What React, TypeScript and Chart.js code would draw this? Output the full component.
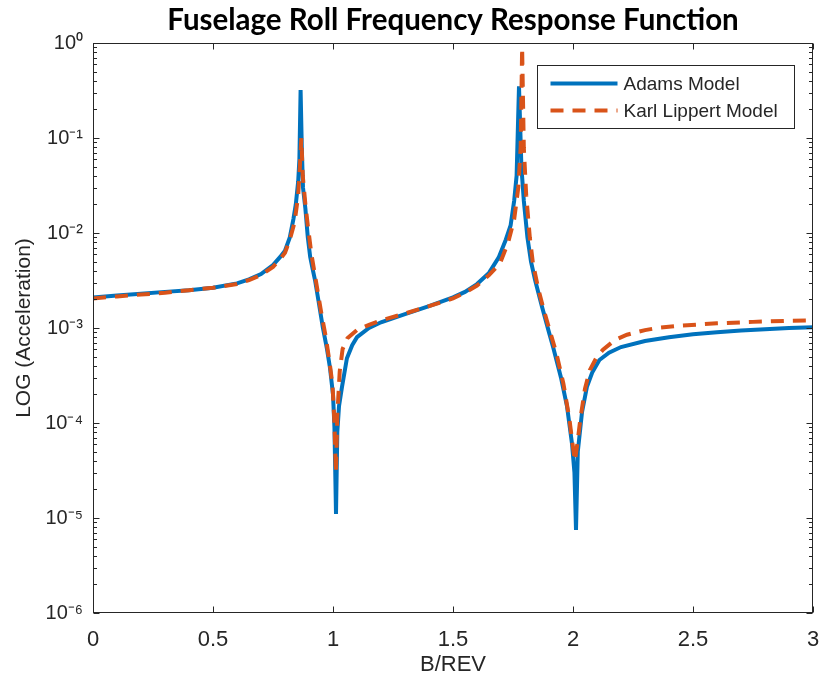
import React, { useEffect, useRef } from 'react';
import { Chart, registerables } from 'chart.js';

Chart.register(...registerables);

const seriesNames = ['Adams Model', 'Karl Lippert Model'];

const adamsX = [
  0, 0.1, 0.2, 0.3, 0.4, 0.5, 0.6, 0.65, 0.7, 0.75, 0.78, 0.8, 0.82, 0.835, 0.845, 0.855, 0.86, 0.865, 0.87,
  0.875, 0.885, 0.895, 0.905, 0.915, 0.925, 0.94, 0.958, 0.975, 0.9875, 1.0, 1.006, 1.0125, 1.018, 1.025,
  1.0375, 1.058, 1.08, 1.1, 1.15, 1.2, 1.3, 1.4, 1.5, 1.55, 1.6, 1.65, 1.69, 1.72, 1.74, 1.755, 1.765, 1.775,
  1.785, 1.795, 1.81, 1.825, 1.842, 1.87, 1.9, 1.917, 1.95, 1.975, 1.996, 2.006, 2.0125, 2.02, 2.0375, 2.058,
  2.08, 2.11, 2.15, 2.2, 2.3, 2.4, 2.5, 2.6, 2.7, 2.8, 2.9, 3.0,
];
const adamsY = [
  2.1e-3, 2.2e-3, 2.3e-3, 2.4e-3, 2.5e-3, 2.65e-3, 2.95e-3, 3.25e-3, 3.7e-3, 4.6e-3, 5.6e-3, 6.5e-3, 9e-3,
  1.4e-2, 2e-2, 3.5e-2, 6e-2, 0.32, 0.08,
  3e-2, 1.8e-2, 9e-3, 5.6e-3, 4.2e-3, 3.2e-3, 1.9e-3, 1.0e-3, 6e-4, 3.8e-4, 2e-4, 9e-5, 1.1e-5, 8e-5, 1.5e-4,
  2.4e-4, 4.8e-4, 6.6e-4, 8e-4, 1e-3, 1.15e-3, 1.4e-3, 1.7e-3, 2.1e-3, 2.4e-3, 2.9e-3, 3.8e-3, 5.5e-3, 8.5e-3,
  1.2e-2, 2.2e-2, 4e-2, 0.35,
  5e-2, 2.2e-2, 9e-3, 5e-3, 3.2e-3, 1.7e-3, 9e-4, 6.3e-4, 3e-4, 1.5e-4, 6e-5, 3e-5, 7.5e-6, 5e-5, 1.3e-4, 2.4e-4,
  3.4e-4, 4.6e-4, 5.5e-4, 6.3e-4, 7.3e-4, 8e-4, 8.6e-4, 9e-4, 9.4e-4, 9.7e-4, 1e-3, 1.02e-3,
];

const lippertX = [
  0, 0.1, 0.2, 0.3, 0.4, 0.5, 0.6, 0.65, 0.7, 0.75, 0.78, 0.8, 0.82, 0.84, 0.855, 0.862, 0.868, 0.874, 0.885,
  0.895, 0.91, 0.93, 0.95, 0.97, 0.985, 0.998, 1.006, 1.012, 1.018, 1.028, 1.04, 1.06, 1.1, 1.15, 1.2, 1.3, 1.4,
  1.5, 1.55, 1.6, 1.65, 1.696, 1.73, 1.755, 1.772, 1.782, 1.788, 1.795, 1.805, 1.82, 1.833, 1.855, 1.875, 1.9,
  1.93, 1.96, 1.985, 1.998, 2.008, 2.018, 2.03, 2.05, 2.07, 2.1, 2.125, 2.175, 2.225, 2.3, 2.35, 2.45, 2.6, 2.75,
  2.9, 3.0,
];
const lippertY = [
  2.05e-3, 2.15e-3, 2.25e-3, 2.35e-3, 2.5e-3, 2.65e-3, 2.9e-3, 3.2e-3, 3.6e-3, 4.4e-3, 5.3e-3, 6.2e-3, 8.5e-3,
  1.3e-2, 2.5e-2, 5e-2, 0.1, 4e-2, 2e-2,
  1.2e-2, 6e-3, 3e-3, 1.5e-3, 8e-4, 4.5e-4, 2.5e-4, 1e-4, 3e-5, 1.2e-4, 3.5e-4, 6e-4, 7.8e-4, 9.5e-4, 1.08e-3,
  1.2e-3, 1.42e-3, 1.7e-3,
  2.05e-3, 2.35e-3, 2.8e-3, 3.6e-3, 4.8e-3, 8e-3, 1.4e-2, 3e-2, 8e-2, 0.89, 8e-2, 2.5e-2, 9e-3, 4.8e-3, 2.6e-3,
  1.66e-3, 1e-3,
  5.5e-4, 2.6e-4, 1.1e-4, 6e-5, 4e-5, 6e-5, 1.07e-4, 2.3e-4, 3.6e-4, 5e-4, 5.9e-4, 7.5e-4, 8.5e-4, 9.5e-4, 1e-3,
  1.06e-3, 1.12e-3, 1.16e-3,
  1.19e-3, 1.2e-3,
];

const xTicks = [0, 0.5, 1, 1.5, 2, 2.5, 3];
const xTickLabels = ['0', '0.5', '1', '1.5', '2', '2.5', '3'];
const yTicks = [1e-6, 1e-5, 1e-4, 1e-3, 1e-2, 1e-1, 1];
const yTickLabels = ['10⁻⁶', '10⁻⁵', '10⁻⁴', '10⁻³', '10⁻²', '10⁻¹', '10⁰'];

const titleText = 'Fuselage Roll Frequency Response Function';
const xTitle = 'B/REV';
const yTitle = 'LOG (Acceleration)';

const AXIS_COLOR = '#262626';
const SANS = '"Liberation Sans", Arial, sans-serif';

const framePlugin = {
  id: 'frame',
  afterDraw(chart: any) {
    const { ctx, chartArea } = chart;
    const { left, right, top, bottom } = chartArea;
    const xs = chart.scales.x;
    const ys = chart.scales.y;
    ctx.save();
    ctx.strokeStyle = AXIS_COLOR;
    ctx.lineWidth = 1;
    const line = (x1: number, y1: number, x2: number, y2: number) => {
      ctx.beginPath();
      ctx.moveTo(x1, y1);
      ctx.lineTo(x2, y2);
      ctx.stroke();
    };
    const L = Math.round(left) + 0.5;
    const R = Math.round(right) - 0.5;
    const T = Math.round(top) + 0.5;
    const B = Math.round(bottom) - 0.5;
    ctx.strokeRect(L, T, R - L, B - T);
    for (const v of xTicks) {
      const px = Math.round(xs.getPixelForValue(v)) + 0.5;
      line(px, B, px, B - 6);
      line(px, T, px, T + 6);
    }
    for (let i = 0; i < yTicks.length; i++) {
      const base = yTicks[i];
      const py = Math.round(ys.getPixelForValue(base)) + 0.5;
      line(L, py, L + 6, py);
      line(R, py, R - 6, py);
      if (i < yTicks.length - 1) {
        for (let m = 2; m <= 9; m++) {
          const pm = Math.round(ys.getPixelForValue(base * m)) + 0.5;
          line(L, pm, L + 3.5, pm);
          line(R, pm, R - 3.5, pm);
        }
      }
    }

    // legend
    const boxW = 257;
    const boxH = 63;
    const bx = Math.round(right - 19 - boxW) + 0.5;
    const by = Math.round(top + 22) + 0.5;
    ctx.fillStyle = '#ffffff';
    ctx.fillRect(bx, by, boxW, boxH);
    ctx.strokeStyle = AXIS_COLOR;
    ctx.lineWidth = 1;
    ctx.strokeRect(bx, by, boxW, boxH);
    const rows = [by + 18, by + 45];
    chart.data.datasets.forEach((ds: any, i: number) => {
      const yy = rows[i];
      ctx.save();
      ctx.strokeStyle = ds.borderColor;
      ctx.lineWidth = ds.borderWidth;
      ctx.setLineDash(ds.borderDash || []);
      ctx.beginPath();
      ctx.moveTo(bx + 13, yy);
      ctx.lineTo(bx + 80, yy);
      ctx.stroke();
      ctx.restore();
      ctx.fillStyle = AXIS_COLOR;
      ctx.font = '19px ' + SANS;
      ctx.textBaseline = 'middle';
      ctx.textAlign = 'left';
      ctx.fillText(ds.label, bx + 86, yy + 1);
    });
    ctx.restore();
  },
};

export default function App() {
  const ref = useRef<HTMLCanvasElement | null>(null);
  useEffect(() => {
    if (!ref.current) return;
    const chart = new Chart(ref.current, {
      type: 'line',
      data: {
        datasets: [
          {
            label: seriesNames[0],
            data: adamsX.map((x, i) => ({ x, y: adamsY[i] })),
            borderColor: '#0072BD',
            borderWidth: 4,
            pointRadius: 0,
            tension: 0,
            fill: false,
            order: 1,
          },
          {
            label: seriesNames[1],
            data: lippertX.map((x, i) => ({ x, y: lippertY[i] })),
            borderColor: '#D95319',
            borderWidth: 4,
            borderDash: [13, 9],
            pointRadius: 0,
            tension: 0,
            fill: false,
            order: 0,
          },
        ],
      },
      options: {
        responsive: false,
        animation: false,
        devicePixelRatio: 1,
        layout: { padding: { left: 0, right: 10, top: 0, bottom: 0 } },
        plugins: {
          legend: { display: false },
          tooltip: { enabled: false },
          title: {
            display: true,
            fullSize: false,
            text: titleText,
            color: '#000000',
            font: { family: 'Lato', size: 29.5, weight: 'bold', lineHeight: 1.2 },
            padding: { top: 3, bottom: 4.6 },
          },
        },
        scales: {
          x: {
            type: 'linear',
            min: 0,
            max: 3,
            grid: { display: false, drawTicks: false },
            border: { display: false },
            afterBuildTicks: (s: any) => {
              s.ticks = xTicks.map((v) => ({ value: v }));
            },
            afterFit: (s: any) => {
              s.height = 69;
              s.paddingLeft = 0;
              s.paddingRight = 0;
            },
            ticks: {
              autoSkip: false,
              maxRotation: 0,
              padding: 14,
              color: AXIS_COLOR,
              font: { family: SANS, size: 22 },
              callback: (_v: any, i: number) => xTickLabels[i],
            },
            title: {
              display: true,
              text: xTitle,
              color: AXIS_COLOR,
              font: { family: SANS, size: 22, lineHeight: 1.2 },
              padding: { top: 0, bottom: 4 },
            },
          },
          y: {
            type: 'logarithmic',
            min: 1e-6,
            max: 1,
            grid: { display: false, drawTicks: false },
            border: { display: false },
            afterBuildTicks: (s: any) => {
              s.ticks = yTicks.map((v) => ({ value: v }));
            },
            afterFit: (s: any) => {
              s.width = 93;
              s.paddingTop = 0;
              s.paddingBottom = 0;
            },
            ticks: {
              autoSkip: false,
              padding: 10,
              color: AXIS_COLOR,
              font: { family: SANS, size: 20 },
              callback: (_v: any, i: number) => yTickLabels[i],
            },
            title: {
              display: true,
              text: yTitle,
              color: AXIS_COLOR,
              font: { family: SANS, size: 21, lineHeight: 1.2 },
              padding: { top: 12, bottom: 0 },
            },
          },
        },
      },
      plugins: [framePlugin],
    } as any);
    return () => chart.destroy();
  }, []);
  return (
    <div style={{ position: 'absolute', left: 0, top: 0, width: 823, height: 682, background: '#ffffff' }}>
      <canvas ref={ref} width={823} height={682} style={{ display: 'block' }} />
    </div>
  );
}
